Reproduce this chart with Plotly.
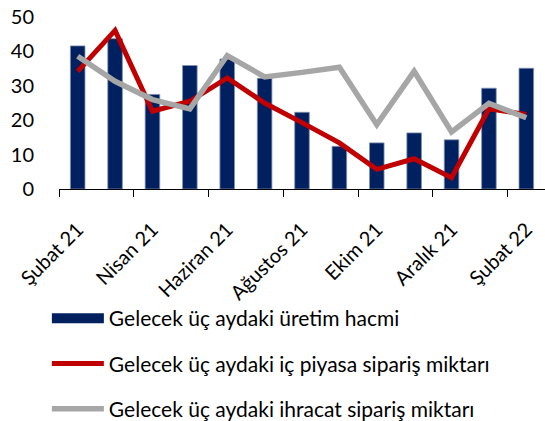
import plotly.graph_objects as go

months = ["Şubat 21", "Mart 21", "Nisan 21", "Mayıs 21", "Haziran 21", "Temmuz 21",
          "Ağustos 21", "Eylül 21", "Ekim 21", "Kasım 21", "Aralık 21", "Ocak 22", "Şubat 22"]
uretim = [41.6, 43.7, 27.5, 35.9, 37.8, 32.2, 22.3, 12.4, 13.4, 16.3, 14.3, 29.3, 35.1]
ic_piyasa = [34.2, 46.1, 22.6, 25.5, 32.3, 25.0, 19.3, 13.4, 5.7, 8.8, 3.3, 23.3, 21.7]
ihracat = [38.6, 31.3, 26.0, 23.3, 38.8, 32.6, 33.9, 35.4, 18.7, 34.2, 16.6, 24.9, 20.7]
label_months = months[::2]
series_names = ["Gelecek üç aydaki üretim hacmi",
                "Gelecek üç aydaki iç piyasa sipariş miktarı",
                "Gelecek üç aydaki ihracat sipariş miktarı"]

font_family = "Lato, Carlito, Calibri, 'Open Sans', sans-serif"

fig = go.Figure()
fig.add_trace(go.Bar(
    x=months, y=uretim, name=series_names[0],
    marker=dict(color="#002060", line=dict(color="#8090b0", width=0.8)),
    width=0.39, showlegend=False))
# legend entry for the bars drawn as a wide block, like the reference
fig.add_trace(go.Scatter(
    x=[None], y=[None], mode="lines", name=series_names[0],
    line=dict(color="#002060", width=13), legendgroup="a"))
fig.add_trace(go.Scatter(
    x=months, y=ic_piyasa, mode="lines", name=series_names[1],
    line=dict(color="#C00000", width=5), legendgroup="b"))
fig.add_trace(go.Scatter(
    x=months, y=ihracat, mode="lines", name=series_names[2],
    line=dict(color="#A6A6A6", width=5.5), legendgroup="c"))

fig.update_layout(
    width=545, height=421,
    margin=dict(l=59, r=0, t=17, b=232, autoexpand=False),
    paper_bgcolor="white", plot_bgcolor="white",
    font=dict(family=font_family, size=21, color="black"),
    showlegend=True,
    legend=dict(
        orientation="v", xref="container", yref="container",
        x=0.086, xanchor="left", y=0.292, yanchor="top",
        traceorder="grouped", tracegroupgap=15,
        font=dict(size=21, color="black"), bgcolor="rgba(0,0,0,0)",
        itemwidth=52,
    ),
)
fig.update_xaxes(
    type="category", categoryorder="array", categoryarray=months,
    tickmode="array", tickvals=label_months, ticktext=label_months,
    tickson="boundaries", tickangle=-45,
    ticks="outside", ticklen=7, tickcolor="black", tickwidth=1,
    showline=True, linecolor="black", linewidth=1,
    showgrid=False, range=[-0.5, 12.5],
    tickfont=dict(size=20, color="black"),
    ticklabelstandoff=20,
)
fig.update_yaxes(
    range=[0, 50], dtick=10, tick0=0,
    showgrid=False, showline=False, zeroline=False,
    ticks="outside", ticklen=20, tickcolor="rgba(0,0,0,0)",
    tickfont=dict(size=20, color="black"),
)

fig.write_html("out.html", config={"displayModeBar": False},
               post_script="document.body.style.margin='0';")
